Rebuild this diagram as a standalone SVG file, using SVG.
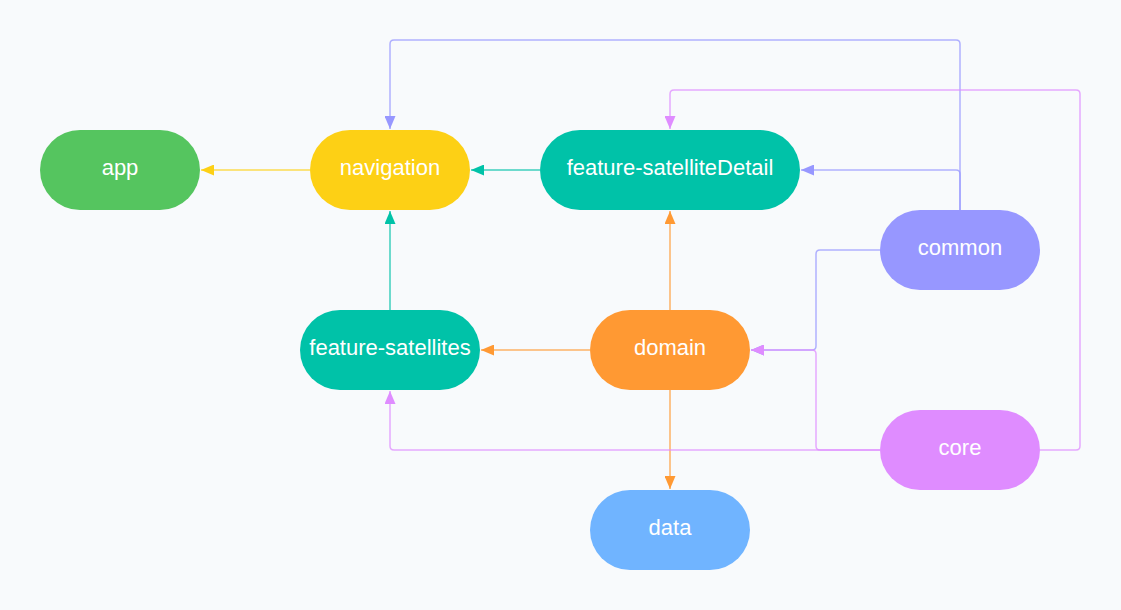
<svg xmlns="http://www.w3.org/2000/svg" width="1121" height="610" viewBox="0 0 1121 610">
<style>
.n text{font-family:"Liberation Sans",Arial,sans-serif;font-size:22px;fill:#fff;text-anchor:middle;dominant-baseline:central}
.e{fill:none;stroke-width:1.5;stroke-opacity:0.75}
</style>
<defs>
<marker id="ay" viewBox="0 0 13 11" refX="13" refY="5.5" markerWidth="13" markerHeight="11" markerUnits="userSpaceOnUse" orient="auto"><path d="M0,0L13,5.5L0,11z" fill="#fdd015"/></marker>
<marker id="at" viewBox="0 0 13 11" refX="13" refY="5.5" markerWidth="13" markerHeight="11" markerUnits="userSpaceOnUse" orient="auto"><path d="M0,0L13,5.5L0,11z" fill="#00c2a8"/></marker>
<marker id="ao" viewBox="0 0 13 11" refX="13" refY="5.5" markerWidth="13" markerHeight="11" markerUnits="userSpaceOnUse" orient="auto"><path d="M0,0L13,5.5L0,11z" fill="#ff9933"/></marker>
<marker id="ap" viewBox="0 0 13 11" refX="13" refY="5.5" markerWidth="13" markerHeight="11" markerUnits="userSpaceOnUse" orient="auto"><path d="M0,0L13,5.5L0,11z" fill="#9797ff"/></marker>
<marker id="ak" viewBox="0 0 13 11" refX="13" refY="5.5" markerWidth="13" markerHeight="11" markerUnits="userSpaceOnUse" orient="auto"><path d="M0,0L13,5.5L0,11z" fill="#df8cff"/></marker>
</defs>
<rect width="1121" height="610" fill="#f8fafc"/>
<g id="connectors">
<path class="e" stroke="#fdd015" d="M310,170H201" marker-end="url(#ay)"/>
<path class="e" stroke="#00c2a8" d="M540,170H471" marker-end="url(#at)"/>
<path class="e" stroke="#00c2a8" d="M390,310V211" marker-end="url(#at)"/>
<path class="e" stroke="#ff9933" d="M670,310V211" marker-end="url(#ao)"/>
<path class="e" stroke="#ff9933" d="M590,350H481" marker-end="url(#ao)"/>
<path class="e" stroke="#ff9933" d="M670,390V489" marker-end="url(#ao)"/>
<path class="e" stroke="#9797ff" d="M960,210V44Q960,40 956,40H394Q390,40 390,44V129" marker-end="url(#ap)"/>
<path class="e" stroke="#9797ff" d="M960,210V174Q960,170 956,170H801" marker-end="url(#ap)"/>
<path class="e" stroke="#9797ff" d="M880,250H820Q816,250 816,254V346Q816,350 812,350H751" marker-end="url(#ap)"/>
<path class="e" stroke="#df8cff" d="M880,450H820Q816,450 816,446V354Q816,350 812,350H751" marker-end="url(#ak)"/>
<path class="e" stroke="#df8cff" d="M880,450H394Q390,450 390,446V391" marker-end="url(#ak)"/>
<path class="e" stroke="#df8cff" d="M1040,450H1076Q1080,450 1080,446V94Q1080,90 1076,90H674Q670,90 670,94V129" marker-end="url(#ak)"/>
</g>
<g id="app" class="n"><rect x="40" y="130" width="160" height="80" rx="40" fill="#55c55f"/><text x="120" y="167">app</text></g>
<g id="navigation" class="n"><rect x="310" y="130" width="160" height="80" rx="40" fill="#fdd015"/><text x="390" y="167">navigation</text></g>
<g id="feature-satelliteDetail" class="n"><rect x="540" y="130" width="260" height="80" rx="40" fill="#00c2a8"/><text x="670" y="167">feature-satelliteDetail</text></g>
<g id="common" class="n"><rect x="880" y="210" width="160" height="80" rx="40" fill="#9797ff"/><text x="960" y="247">common</text></g>
<g id="feature-satellites" class="n"><rect x="300" y="310" width="180" height="80" rx="40" fill="#00c2a8"/><text x="390" y="347">feature-satellites</text></g>
<g id="domain" class="n"><rect x="590" y="310" width="160" height="80" rx="40" fill="#ff9933"/><text x="670" y="347">domain</text></g>
<g id="core" class="n"><rect x="880" y="410" width="160" height="80" rx="40" fill="#df8cff"/><text x="960" y="447">core</text></g>
<g id="data" class="n"><rect x="590" y="490" width="160" height="80" rx="40" fill="#70b4ff"/><text x="670" y="527">data</text></g>
</svg>
